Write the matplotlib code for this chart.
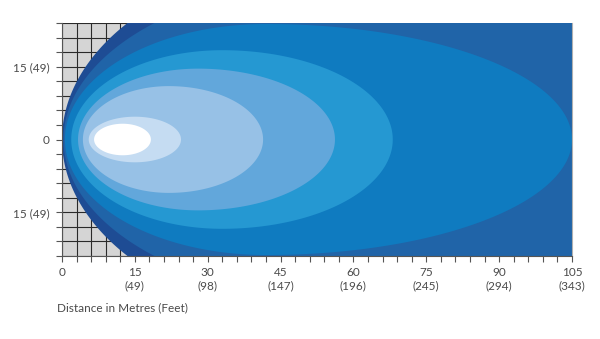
import numpy as np
import matplotlib
matplotlib.use("Agg")
import matplotlib.pyplot as plt
from matplotlib.patches import Polygon

plt.rcParams['font.family'] = ['Lato', 'DejaVu Sans']

# beam zones, outermost first (metres): near edge, far edge, widest point, half width
zone_near = [0.0, 0.3, 0.6, 1.9, 3.3, 4.3, 5.5, 6.6]
zone_far = [150.0, 150.0, 105.0, 68.1, 56.2, 41.4, 24.5, 18.3]
zone_peak = [60.0, 60.0, 42.0, 33.0, 28.0, 22.0, 15.0, 12.5]
zone_half = [38.0, 33.0, 23.8, 18.4, 14.6, 11.0, 4.7, 3.25]
zone_colors = ['#1e4c94', '#2064a8', '#0f7bc0', '#2598d2',
               '#62a7db', '#97c1e6', '#c5dcf2', '#ffffff']

x_major = [0, 15, 30, 45, 60, 75, 90, 105]
x_feet = [None, 49, 98, 147, 196, 245, 294, 343]
y_major = [-15, 0, 15]
y_labels = ['15 (49)', '0', '15 (49)']

TXT = '#4a4a4a'
FS = 8.5


def egg(near, far, peak, half, n=400):
    """ellipse-ish shape, blunter on one side than the other"""
    t = np.linspace(0, 2 * np.pi, n)
    c = np.cos(t)
    a = np.where(c >= 0, far - peak, peak - near)
    return np.column_stack([peak + a * c, half * np.sin(t)])


fig = plt.figure(figsize=(6.0, 3.39), dpi=100)
ax = fig.add_axes([62 / 600, 1 - 256 / 339, 510 / 600, 233 / 339])
ax.set_facecolor('#d5d5d5')

for i in range(len(zone_near)):
    pts = egg(zone_near[i], zone_far[i], zone_peak[i], zone_half[i])
    ax.add_patch(Polygon(pts, closed=True, facecolor=zone_colors[i],
                         edgecolor='none', zorder=1))

ax.set_xlim(0, 105)
ax.set_ylim(-24, 24)

ax.set_xticks(x_major)
ax.set_xticklabels(['0' if f is None else '%d\n(%d)' % (m, f)
                    for m, f in zip(x_major, x_feet)])
ax.set_xticks(np.arange(0, 106, 3), minor=True)
ax.set_yticks(y_major)
ax.set_yticklabels(y_labels)
ax.set_yticks(np.arange(-24, 25, 3), minor=True)

ax.set_axisbelow(True)
ax.grid(True, which='both', color='#2a2a2a', linewidth=0.8)

ax.tick_params(which='both', direction='out', length=4, width=0.8,
               color='#555555', labelsize=FS, labelcolor=TXT)
ax.tick_params(axis='x', pad=4)
ax.tick_params(axis='y', pad=5)

ax.spines['top'].set_visible(False)
ax.spines['right'].set_color('#b0b0b0')
ax.spines['right'].set_linewidth(0.8)
ax.spines['left'].set_color('#555555')
ax.spines['left'].set_linewidth(0.8)
ax.spines['bottom'].set_color('#555555')
ax.spines['bottom'].set_linewidth(0.8)

fig.text(57 / 600, 1 - 308 / 339, 'Distance in Metres (Feet)', fontsize=FS,
         color=TXT, ha='left', va='center')

fig.savefig('out.png', dpi=100)
